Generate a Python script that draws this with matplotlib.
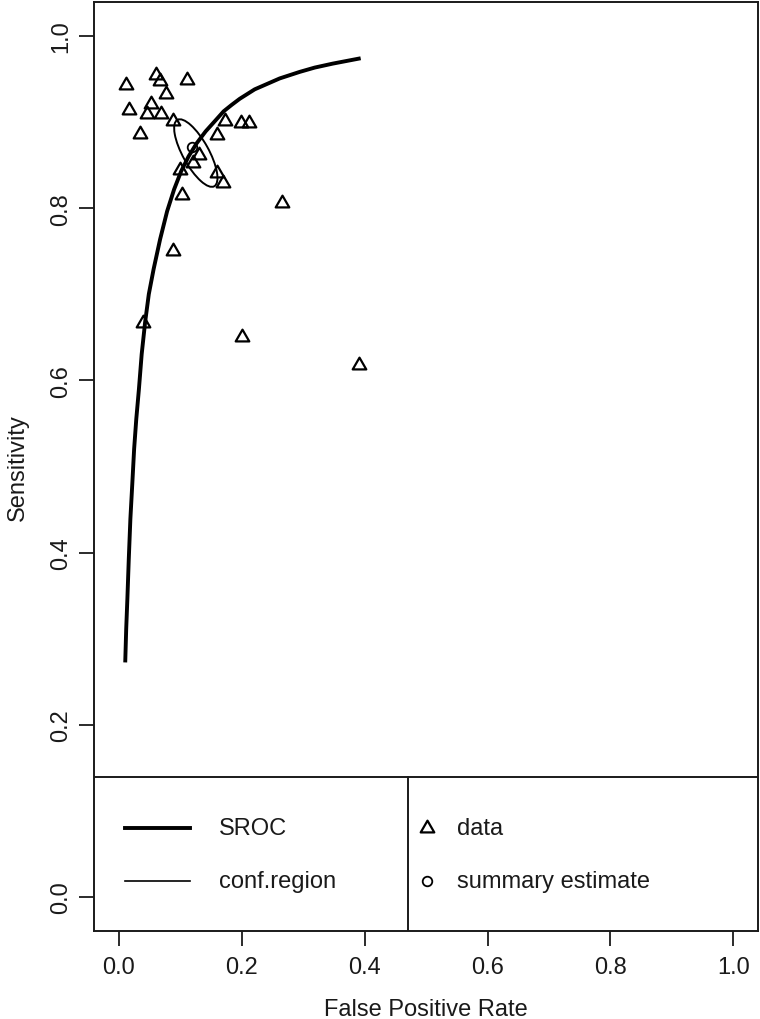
import matplotlib
matplotlib.use("Agg")
import matplotlib.pyplot as plt
from matplotlib.path import Path
from matplotlib.patches import Ellipse
from matplotlib.transforms import Affine2D
from matplotlib.lines import Line2D

plt.rcParams['font.family'] = ['Liberation Sans', 'DejaVu Sans']

# ---- data ----
fpr = [0.011, 0.060, 0.067, 0.111, 0.077, 0.017, 0.052, 0.045, 0.069, 0.088,
       0.035, 0.172, 0.198, 0.212, 0.160, 0.131, 0.120, 0.100, 0.159, 0.169,
       0.103, 0.265, 0.088, 0.040, 0.200, 0.391]
sens = [0.943, 0.955, 0.948, 0.949, 0.933, 0.914, 0.921, 0.909, 0.909, 0.901,
        0.886, 0.901, 0.899, 0.899, 0.885, 0.862, 0.852, 0.845, 0.841, 0.829,
        0.815, 0.806, 0.750, 0.667, 0.650, 0.618]

summary_fpr = [0.119]
summary_sens = [0.871]

sroc_fpr = [0.0104, 0.0119, 0.0138, 0.0161, 0.0187, 0.0218, 0.0248, 0.0283,
            0.0326, 0.0371, 0.0427, 0.0487, 0.0565, 0.0671, 0.0785, 0.0899,
            0.1013, 0.1135, 0.1265, 0.1412, 0.1567, 0.1705, 0.1836, 0.1966,
            0.2210, 0.2617, 0.2943, 0.3187, 0.3480, 0.3904]
sroc_sens = [0.2746, 0.3114, 0.3462, 0.3926, 0.4391, 0.4797, 0.5203, 0.5551,
             0.5899, 0.6305, 0.6677, 0.7002, 0.7292, 0.7640, 0.7965, 0.8220,
             0.8429, 0.8603, 0.8754, 0.8893, 0.9016, 0.9126, 0.9201, 0.9271,
             0.9381, 0.9508, 0.9584, 0.9634, 0.9680, 0.9738]

# confidence region (ellipse) centre in data units
conf_center = (0.1252, 0.8641)

ticks = [0.0, 0.2, 0.4, 0.6, 0.8, 1.0]
tick_labels = ["0.0", "0.2", "0.4", "0.6", "0.8", "1.0"]
xlabel = "False Positive Rate"
ylabel = "Sensitivity"
legend_left = ["SROC", "conf.region"]
legend_right = ["data", "summary estimate"]

# ---- figure ----
FS = 17
INK = "#1a1a1a"
fig = plt.figure(figsize=(7.6, 10.2), dpi=100)
ax = fig.add_axes([0.1241, 0.0860, 0.8731, 0.9114])
ax.set_xlim(-0.04, 1.04)
ax.set_ylim(-0.04, 1.04)

tri = Path([(0, 1), (-0.866, -0.5), (0.866, -0.5), (0, 1)],
           [Path.MOVETO, Path.LINETO, Path.LINETO, Path.CLOSEPOLY])
TRI_MS, TRI_MEW = 11.3, 1.6

ax.plot(fpr, sens, linestyle='none', marker=tri, ms=TRI_MS, mfc='none',
        mec='black', mew=TRI_MEW, zorder=3)
ax.plot(sroc_fpr, sroc_sens, color='black', lw=2.8, zorder=4,
        solid_joinstyle='round')

SX, SY = 614.0, 861.6
trans = Affine2D().scale(1.0 / SX, 1.0 / SY) + ax.transData
ell = Ellipse((conf_center[0] * SX, conf_center[1] * SY), width=76, height=26,
              angle=-61, transform=trans, fill=False, lw=1.4, color='black',
              zorder=4)
ax.add_patch(ell)
ax.plot(summary_fpr, summary_sens, linestyle='none', marker='o', ms=6.9,
        mfc='none', mec='black', mew=1.3, zorder=5)

# axes styling
for sp in ax.spines.values():
    sp.set_linewidth(1.4)
    sp.set_color(INK)
ax.set_xticks(ticks)
ax.set_xticklabels(tick_labels)
ax.set_yticks(ticks)
ax.set_yticklabels(tick_labels, rotation=90, va='center')
ax.tick_params(axis='both', length=11, width=1.3, color=INK, labelsize=FS,
               labelcolor=INK)
ax.tick_params(axis='x', pad=7)
ax.tick_params(axis='y', pad=5)

fig.text(0.5607, 0.0035, xlabel, ha='center', va='baseline', fontsize=FS,
         color=INK)
fig.text(18 / 760, 0.5417, ylabel, ha='center', va='center', rotation=90,
         fontsize=FS, color=INK)

# ---- legend box (two panels across the bottom of the plot) ----
top = 0.166
div = 0.472
ax.add_line(Line2D([0, 1], [top, top], transform=ax.transAxes, color=INK,
                   lw=1.4, zorder=6))
ax.add_line(Line2D([div, div], [0, top], transform=ax.transAxes, color=INK,
                   lw=1.4, zorder=6))
rows = [0.1111, 0.0541]
ax.add_line(Line2D([0.0463, 0.1442], [rows[0], rows[0]], transform=ax.transAxes,
                   color='black', lw=2.8))
ax.add_line(Line2D([0.0463, 0.1442], [rows[1], rows[1]], transform=ax.transAxes,
                   color='black', lw=1.2))
ax.text(0.188, rows[0], legend_left[0], transform=ax.transAxes, fontsize=FS,
        va='center', ha='left', color=INK)
ax.text(0.188, rows[1], legend_left[1], transform=ax.transAxes, fontsize=FS,
        va='center', ha='left', color=INK)
ax.plot([0.502], [rows[0]], transform=ax.transAxes, marker=tri, ms=TRI_MS,
        mfc='none', mec='black', mew=TRI_MEW, linestyle='none')
ax.plot([0.502], [rows[1]], transform=ax.transAxes, marker='o', ms=6.9,
        mfc='none', mec='black', mew=1.3, linestyle='none')
ax.text(0.547, rows[0], legend_right[0], transform=ax.transAxes, fontsize=FS,
        va='center', ha='left', color=INK)
ax.text(0.547, rows[1], legend_right[1], transform=ax.transAxes, fontsize=FS,
        va='center', ha='left', color=INK)

fig.savefig("out.png", dpi=100)
